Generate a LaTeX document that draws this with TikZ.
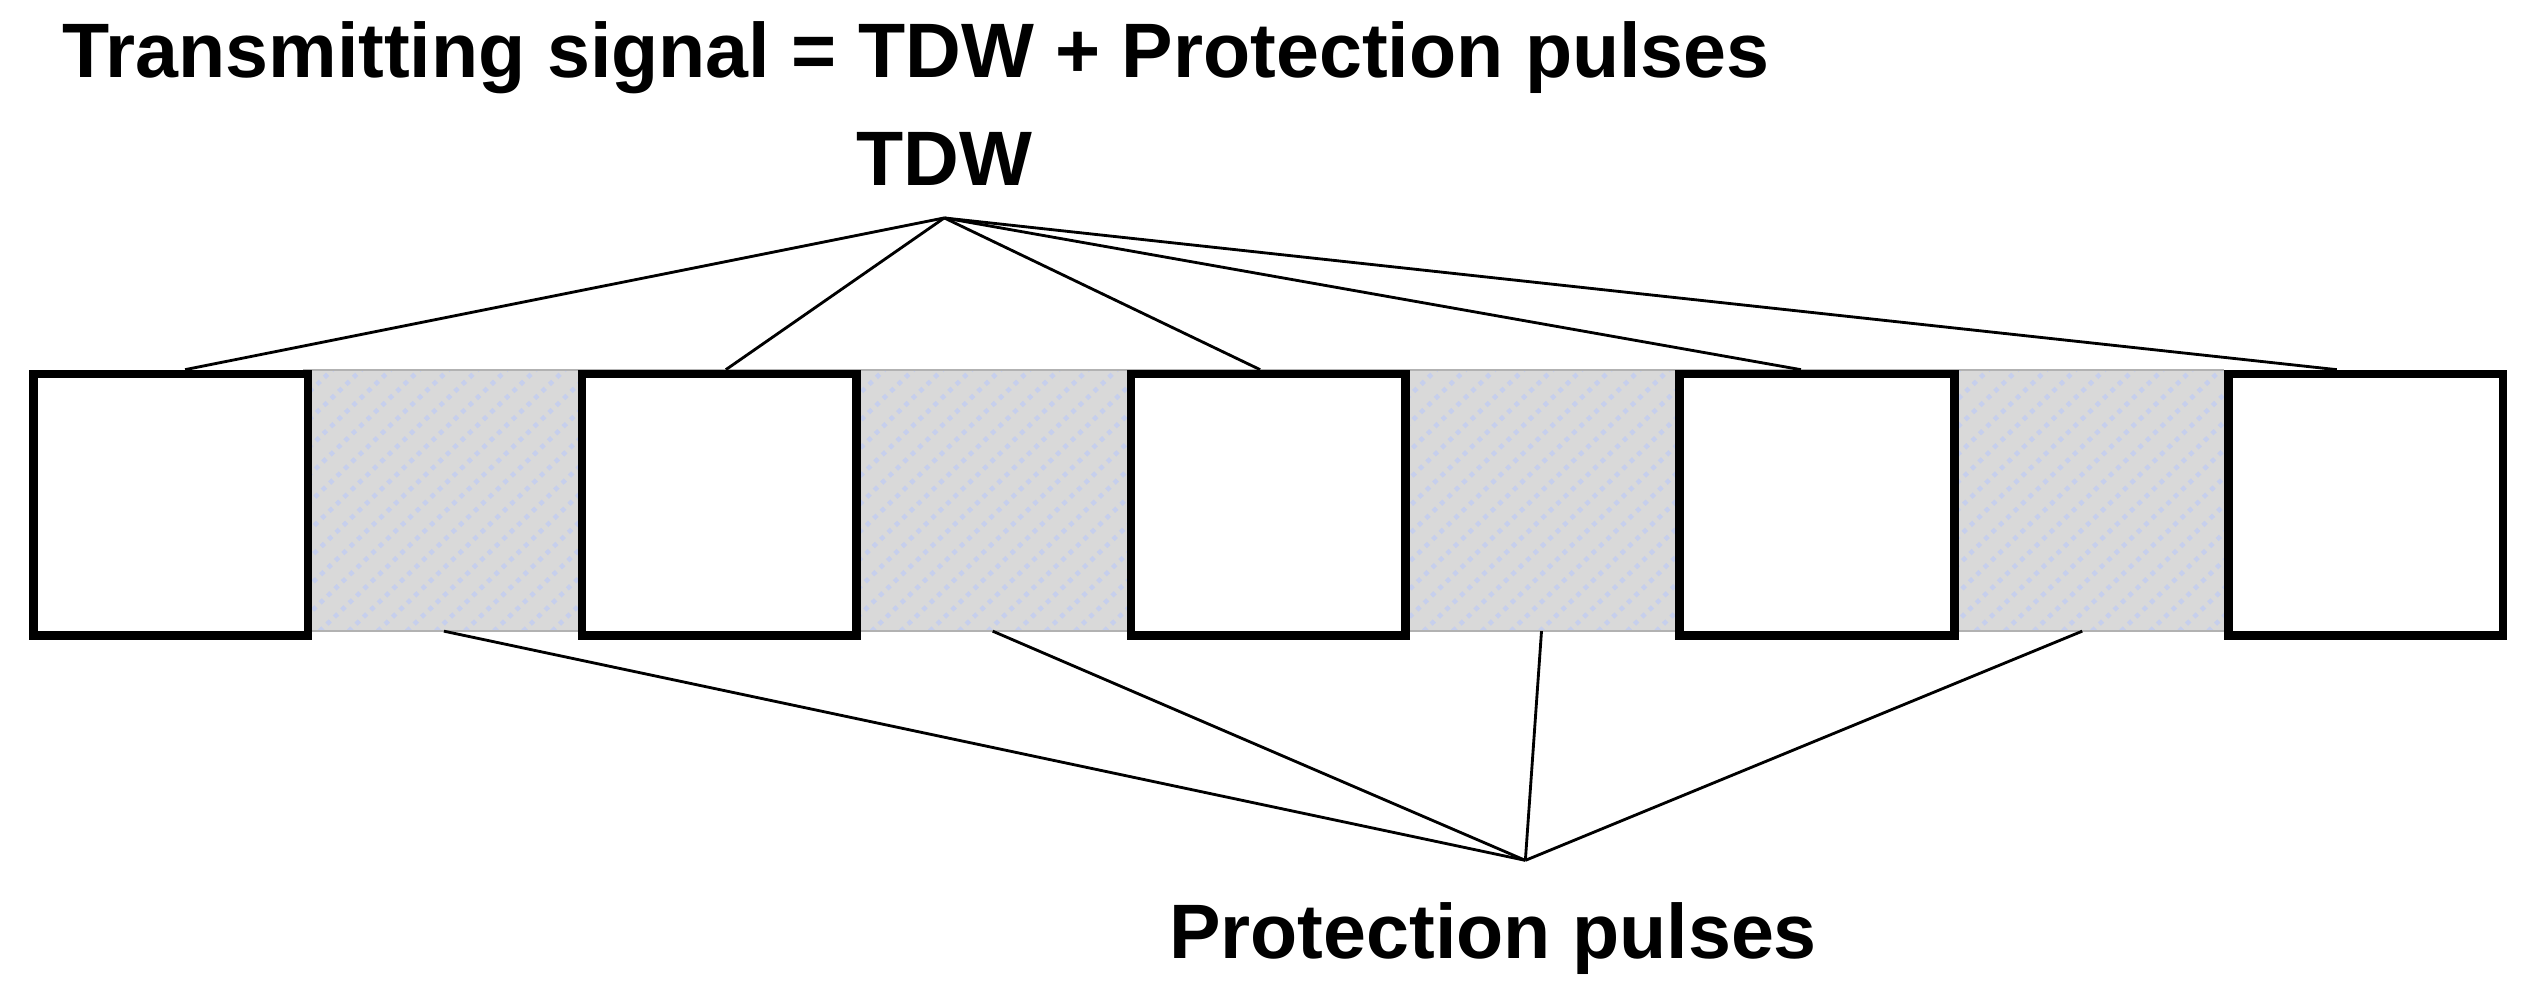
\documentclass[tikz,border=0pt]{standalone}
\usepackage{fontspec}
\setmainfont{Liberation Sans}
\usetikzlibrary{patterns}
\begin{document}
\begin{tikzpicture}[x=0.01cm,y=-0.01cm,
  box/.style={draw=black,line width=1.5pt,fill=white},
  lbl/.style={font=\bfseries\fontsize{13.6}{15}\selectfont,inner sep=0pt},
  lk/.style={line width=0.5pt}]
\useasboundingbox (0,0) rectangle (1568,620);
\fill[gray!30] (188,229) rectangle (1378,391);
\begin{scope}
\clip (188,229) rectangle (1378,391);
\foreach \i in {0,...,80}{
  \draw[cyan!40!blue!22,densely dotted,line width=0.8pt] (188+\i*18-170,391) -- (188+\i*18,229);
}
\end{scope}
\draw[gray!60,line width=0.4pt] (188,229) -- (1378,229) (188,391) -- (1378,391);
\foreach \n/\x in {b1/18,b2/358,b3/698,b4/1038,b5/1378}{
  \node[box,minimum width=1.7cm,minimum height=1.62cm,anchor=north west,inner sep=0pt] (\n) at (\x,229) {};
}
\node[lbl,anchor=base west] (title) at (38,48) {Transmitting signal = TDW + Protection pulses};
\node[lbl,anchor=base] (tdw) at (585,115) {TDW};
\node[lbl,anchor=base] (pp) at (925,594) {Protection pulses};
\coordinate (ta) at (585,135);
\coordinate (pa) at (945,533);
\coordinate (g1) at (275,391);
\coordinate (g2) at (615,391);
\coordinate (g3) at (955,391);
\coordinate (g4) at (1290,391);
\draw[lk] (ta) -- ([xshift=0.09cm]b1.north);
\draw[lk] (ta) -- ([xshift=0.04cm]b2.north);
\draw[lk] (ta) -- ([xshift=-0.05cm]b3.north);
\draw[lk] (ta) -- ([xshift=-0.10cm]b4.north);
\draw[lk] (ta) -- ([xshift=-0.18cm]b5.north);
\foreach \g in {g1,g2,g3,g4} \draw[lk] (pa) -- (\g);
\end{tikzpicture}
\end{document}
